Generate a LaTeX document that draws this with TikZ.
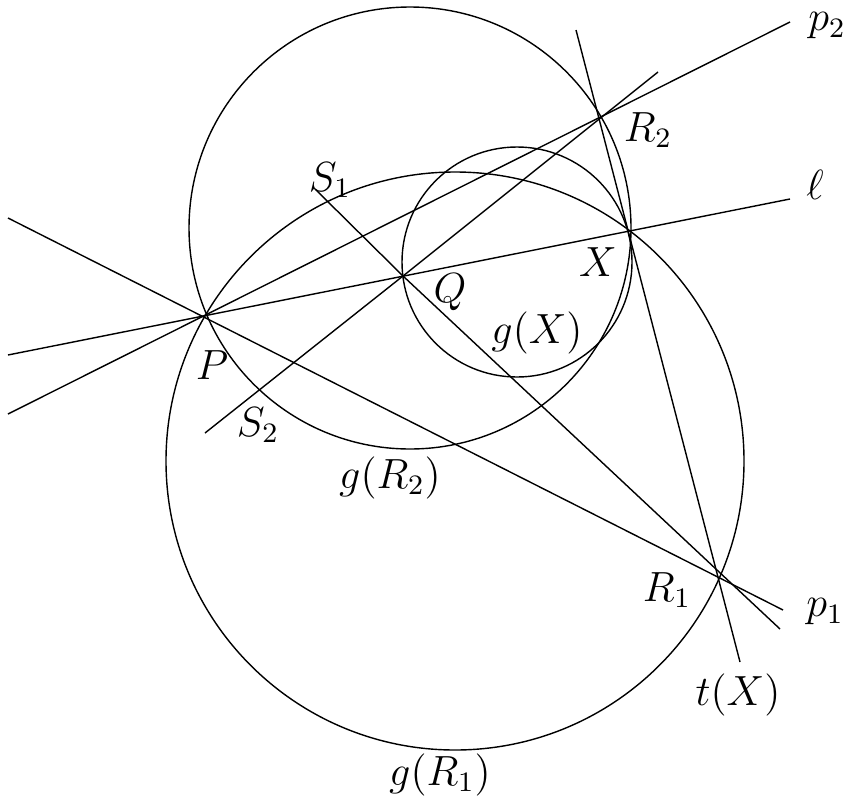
\documentclass[tikz,border=0pt]{standalone}
\usepackage{amsmath}
\usepackage{tikz}
\usetikzlibrary{positioning}
\tikzstyle{figure} = [x = .01cm, y = -.01cm]
\tikzstyle{lineStyle} = [line width=.4pt]
\tikzstyle{pointLabel} = [font=\large]
\begin{document}
\begin{tikzpicture}[figure]
\useasboundingbox (0,0) rectangle (855,809);
% points
\coordinate (P) at (205,316);
\coordinate (Q) at (403,276);
\coordinate (X) at (628,231);
\coordinate (R2) at (598,118);
\coordinate (R1) at (718,571);
% line ends
\coordinate (p2a) at (8,414);
\coordinate (p2b) at (790,22);
\coordinate (la) at (8,355);
\coordinate (lb) at (790,199);
\coordinate (p1a) at (8,218);
\coordinate (p1b) at (783,610);
\coordinate (s1a) at (315,189);
\coordinate (s1b) at (780,629);
\coordinate (s2a) at (205,433);
\coordinate (s2b) at (658,72);
\coordinate (ta) at (576,30);
\coordinate (tb) at (740,662);
% circles
\draw [lineStyle] (455,461) circle (289);
\draw [lineStyle] (410,228) circle (221);
\draw [lineStyle] (517,262) circle (115);
% lines
\draw [lineStyle] (p2a) -- (p2b);
\draw [lineStyle] (la) -- (lb);
\draw [lineStyle] (p1a) -- (p1b);
\draw [lineStyle] (s1a) -- (Q) -- (s1b);
\draw [lineStyle] (s2a) -- (Q) -- (s2b);
\draw [lineStyle] (ta) -- (tb);
% labels
\node [pointLabel] (p2Label) at (827,26) {$p_2$};
\node [pointLabel] (R2Label) at (648,130) {$R_2$};
\node [pointLabel] (S1Label) at (330,180) {$S_1$};
\node [pointLabel] (lLabel) at (815,185) {$\ell$};
\node [pointLabel] (XLabel) at (598,262) {$X$};
\node [pointLabel] (QLabel) at (450,292) {$Q$};
\node [pointLabel] (gXLabel) at (537,333) {$g(X)$};
\node [pointLabel] (PLabel) at (212,365) {$P$};
\node [pointLabel] (S2Label) at (258,425) {$S_2$};
\node [pointLabel] (gR2Label) at (390,478) {$g(R_2)$};
\node [pointLabel] (R1Label) at (667,590) {$R_1$};
\node [pointLabel] (p1Label) at (825,612) {$p_1$};
\node [pointLabel] (tXLabel) at (738,695) {$t(X)$};
\node [pointLabel] (gR1Label) at (440,775) {$g(R_1)$};
\end{tikzpicture}
\end{document}
